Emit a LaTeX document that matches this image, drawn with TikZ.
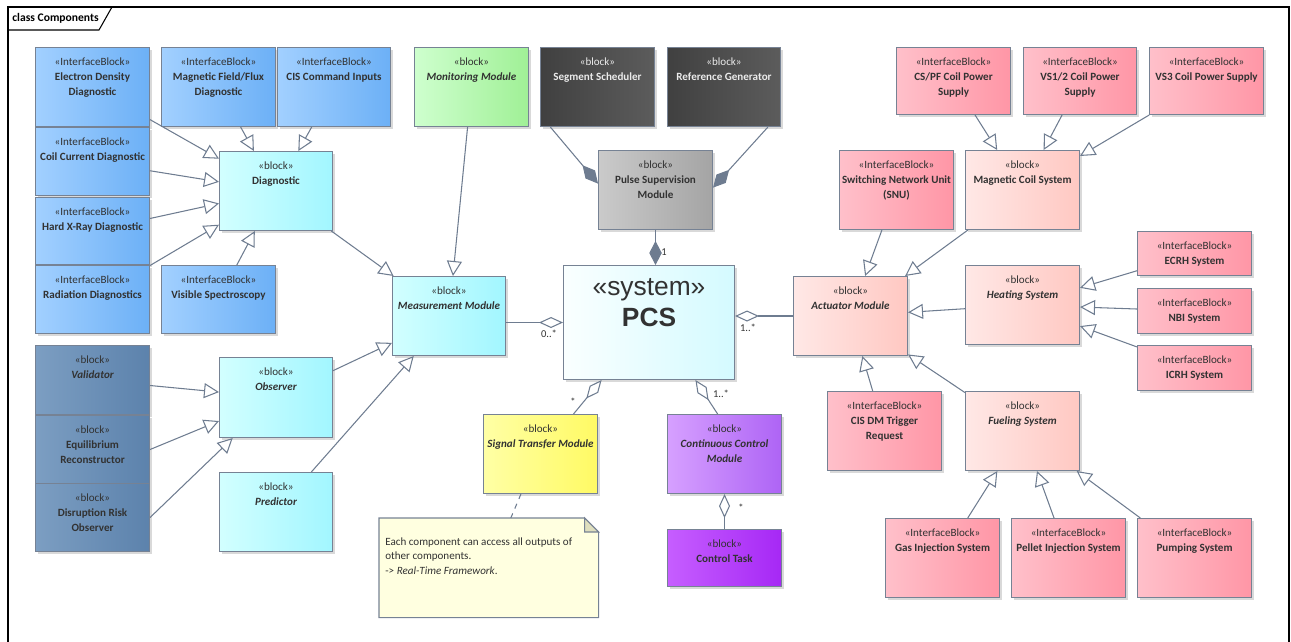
\documentclass[tikz,border=0pt]{standalone}
\usepackage{fontspec}
\setmainfont{Carlito}
\newfontfamily\pcsfont{Liberation Sans}
\usetikzlibrary{arrows.meta,positioning,calc,shadows}
\definecolor{PcsBorder}{RGB}{118,130,148}
\definecolor{PcsLine}{RGB}{110,124,144}
\definecolor{PcsText}{RGB}{50,50,50}
\definecolor{IfBlueL}{RGB}{162,208,255}
\definecolor{IfBlueR}{RGB}{108,176,246}
\definecolor{CyanL}{RGB}{210,255,255}
\definecolor{CyanR}{RGB}{162,246,255}
\definecolor{SysL}{RGB}{250,255,255}
\definecolor{SysR}{RGB}{212,250,255}
\definecolor{SteelL}{RGB}{124,158,194}
\definecolor{SteelR}{RGB}{92,130,172}
\definecolor{GreenL}{RGB}{206,255,206}
\definecolor{GreenR}{RGB}{160,240,150}
\definecolor{DarkL}{RGB}{64,64,64}
\definecolor{DarkR}{RGB}{92,92,92}
\definecolor{GrayL}{RGB}{202,202,202}
\definecolor{GrayR}{RGB}{164,164,164}
\definecolor{YellowL}{RGB}{255,255,165}
\definecolor{YellowR}{RGB}{255,250,100}
\definecolor{PurpleL}{RGB}{214,160,255}
\definecolor{PurpleR}{RGB}{174,100,245}
\definecolor{VioletL}{RGB}{198,94,255}
\definecolor{VioletR}{RGB}{166,40,245}
\definecolor{PinkL}{RGB}{255,192,202}
\definecolor{PinkR}{RGB}{255,150,166}
\definecolor{RoseL}{RGB}{255,232,230}
\definecolor{RoseR}{RGB}{255,200,194}
\definecolor{NoteFill}{RGB}{255,255,224}
\definecolor{NoteFold}{RGB}{222,222,190}
\tikzset{
  pcs/box/.style={
    draw=PcsBorder,
    line width=0.6pt,
    anchor=north west,
    minimum width=2.28cm,
    minimum height=1.58cm,
    inner sep=0pt,
    drop shadow={shadow xshift=0.05cm, shadow yshift=-0.05cm, fill=black, opacity=0.15}
  },
  pcs/iface/.style={pcs/box, left color=IfBlueL, right color=IfBlueR},
  pcs/cyan/.style={pcs/box, left color=CyanL, right color=CyanR},
  pcs/steel/.style={pcs/box, left color=SteelL, right color=SteelR},
  pcs/green/.style={pcs/box, left color=GreenL, right color=GreenR},
  pcs/dark/.style={pcs/box, left color=DarkL, right color=DarkR},
  pcs/gray/.style={pcs/box, left color=GrayL, right color=GrayR},
  pcs/system/.style={pcs/box, left color=SysL, right color=SysR},
  pcs/yellow/.style={pcs/box, left color=YellowL, right color=YellowR},
  pcs/purple/.style={pcs/box, left color=PurpleL, right color=PurpleR},
  pcs/violet/.style={pcs/box, left color=VioletL, right color=VioletR},
  pcs/pink/.style={pcs/box, left color=PinkL, right color=PinkR},
  pcs/rose/.style={pcs/box, left color=RoseL, right color=RoseR},
  pcs/txt/.style={
    anchor=north,
    inner sep=0pt,
    align=center,
    text=PcsText,
    font=\fontsize{6.3}{8.5}\selectfont\bfseries
  },
  pcs/txtw/.style={pcs/txt, text=white!92!black},
  pcs/gen/.style={draw=PcsLine, line width=0.6pt, -{Triangle[open,fill=white,length=0.3cm,width=0.3cm]}},
  pcs/agg/.style={draw=PcsLine, line width=0.6pt, {Diamond[open,fill=white,length=0.48cm,width=0.22cm]}-},
  pcs/comp/.style={draw=PcsLine, line width=0.6pt, {Diamond[fill=PcsLine,length=0.48cm,width=0.25cm]}-},
  pcs/link/.style={draw=PcsLine, line width=0.6pt, dashed},
  pcs/mult/.style={font=\fontsize{6}{7}\selectfont, text=PcsText, inner sep=0pt}
}

\begin{document}
\begin{tikzpicture}[x=0.02cm,y=-0.02cm]
  \useasboundingbox (0,0) rectangle (1291,642);
  % frame
  \draw[black, line width=0.6pt] (8,642) -- (8,7) -- (1289,7) -- (1289,642);
  \draw[black, line width=0.6pt] (8,30) -- (99,30) -- (112,7);
  \node[anchor=west, inner sep=0pt, font=\fontsize{6.6}{8}\selectfont\bfseries] (frame-t) at (12,18) {class Components};

  % diagnostics
  \node[pcs/iface] (edd) at (35,47) {};
  \node[pcs/txt, below=0.21cm of edd.north] (edd-t) {{\mdseries «InterfaceBlock»}\\Electron Density\\Diagnostic};
  \node[pcs/iface] (mff) at (161,47) {};
  \node[pcs/txt, below=0.21cm of mff.north] (mff-t) {{\mdseries «InterfaceBlock»}\\Magnetic Field/Flux\\Diagnostic};
  \node[pcs/iface, minimum width=2.26cm] (cis) at (277,47) {};
  \node[pcs/txt, below=0.21cm of cis.north] (cis-t) {{\mdseries «InterfaceBlock»}\\CIS Command Inputs};
  \node[pcs/iface, minimum height=1.36cm] (ccd) at (35,127) {};
  \node[pcs/txt, below=0.21cm of ccd.north] (ccd-t) {{\mdseries «InterfaceBlock»}\\Coil Current Diagnostic};
  \node[pcs/iface, minimum height=1.34cm] (hxr) at (35,197) {};
  \node[pcs/txt, below=0.21cm of hxr.north] (hxr-t) {{\mdseries «InterfaceBlock»}\\Hard X-Ray Diagnostic};
  \node[pcs/iface, minimum height=1.36cm] (rad) at (35,265) {};
  \node[pcs/txt, below=0.21cm of rad.north] (rad-t) {{\mdseries «InterfaceBlock»}\\Radiation Diagnostics};
  \node[pcs/iface, minimum height=1.36cm] (vis) at (161,265) {};
  \node[pcs/txt, below=0.21cm of vis.north] (vis-t) {{\mdseries «InterfaceBlock»}\\Visible Spectroscopy};
  \node[pcs/cyan, minimum width=2.26cm] (diag) at (219,151) {};
  \node[pcs/txt, below=0.21cm of diag.north] (diag-t) {{\mdseries «block»}\\Diagnostic};

  % observers
  \node[pcs/steel, minimum height=1.38cm] (vali) at (35,345) {};
  \node[pcs/txt, below=0.21cm of vali.north] (vali-t) {{\mdseries «block»}\\\itshape Validator};
  \node[pcs/steel, minimum height=1.36cm] (equi) at (35,415) {};
  \node[pcs/txt, below=0.21cm of equi.north] (equi-t) {{\mdseries «block»}\\Equilibrium\\Reconstructor};
  \node[pcs/steel, minimum height=1.36cm] (dro) at (35,483) {};
  \node[pcs/txt, below=0.21cm of dro.north] (dro-t) {{\mdseries «block»}\\Disruption Risk\\Observer};
  \node[pcs/cyan, minimum width=2.26cm, minimum height=1.6cm] (obs) at (219,357) {};
  \node[pcs/txt, below=0.21cm of obs.north] (obs-t) {{\mdseries «block»}\\\itshape Observer};
  \node[pcs/cyan, minimum width=2.26cm] (pred) at (219,472) {};
  \node[pcs/txt, below=0.21cm of pred.north] (pred-t) {{\mdseries «block»}\\\itshape Predictor};

  % core
  \node[pcs/cyan, minimum width=2.26cm] (meas) at (392,276) {};
  \node[pcs/txt, below=0.21cm of meas.north] (meas-t) {{\mdseries «block»}\\\itshape Measurement Module};
  \node[pcs/green] (mon) at (414,47) {};
  \node[pcs/txt, below=0.21cm of mon.north] (mon-t) {{\mdseries «block»}\\\itshape Monitoring Module};
  \node[pcs/dark] (seg) at (540,47) {};
  \node[pcs/txtw, below=0.21cm of seg.north] (seg-t) {{\mdseries «block»}\\Segment Scheduler};
  \node[pcs/dark, minimum width=2.26cm] (ref) at (667,47) {};
  \node[pcs/txtw, below=0.21cm of ref.north] (ref-t) {{\mdseries «block»}\\Reference Generator};
  \node[pcs/gray] (psm) at (598,150) {};
  \node[pcs/txt, below=0.21cm of psm.north] (psm-t) {{\mdseries «block»}\\Pulse Supervision\\Module};
  \node[pcs/system, minimum width=3.42cm, minimum height=2.28cm] (pcs) at (563,265) {};
  \node[pcs/txt, font=\pcsfont\fontsize{15}{17.5}\selectfont, below=0.27cm of pcs.north] (pcs-t) {«system»\\\bfseries PCS};
  \node[pcs/yellow] (stm) at (483,414) {};
  \node[pcs/txt, below=0.21cm of stm.north] (stm-t) {{\mdseries «block»}\\\itshape Signal Transfer Module};
  \node[pcs/purple] (ccm) at (667,414) {};
  \node[pcs/txt, below=0.21cm of ccm.north] (ccm-t) {{\mdseries «block»}\\\itshape Continuous Control\\\itshape Module};
  \node[pcs/violet, minimum height=1.14cm] (ctask) at (667,529) {};
  \node[pcs/txt, below=0.21cm of ctask.north] (ctask-t) {{\mdseries «block»}\\Control Task};

  % note
  \node[anchor=north west, minimum width=4.38cm, minimum height=1.98cm, inner sep=0pt] (note) at (379,518) {};
  \draw[draw=PcsBorder, line width=0.6pt, fill=NoteFill] (note.north west) -- ([xshift=-0.28cm]note.north east) -- ([yshift=-0.28cm]note.north east) -- (note.south east) -- (note.south west) -- cycle;
  \draw[draw=PcsBorder, line width=0.6pt, fill=NoteFold] ([xshift=-0.28cm]note.north east) -- ([yshift=-0.28cm]note.north east) -- ([xshift=-0.28cm,yshift=-0.28cm]note.north east) -- cycle;
  \node[anchor=north west, inner sep=0pt, align=left, text=PcsText, font=\fontsize{6.3}{8.5}\selectfont, below right=0.38cm and 0.12cm of note.north west] (note-t) {Each component can access all outputs of\\other components.\\-> \textit{Real-Time Framework}.};

  % actuators
  \node[pcs/pink, minimum height=1.34cm] (cspf) at (896,47) {};
  \node[pcs/txt, below=0.21cm of cspf.north] (cspf-t) {{\mdseries «InterfaceBlock»}\\CS/PF Coil Power\\Supply};
  \node[pcs/pink, minimum width=2.26cm, minimum height=1.34cm] (vs12) at (1023,47) {};
  \node[pcs/txt, below=0.21cm of vs12.north] (vs12-t) {{\mdseries «InterfaceBlock»}\\VS1/2 Coil Power\\Supply};
  \node[pcs/pink, minimum height=1.34cm] (vs3) at (1149,47) {};
  \node[pcs/txt, below=0.21cm of vs3.north] (vs3-t) {{\mdseries «InterfaceBlock»}\\VS3 Coil Power Supply};
  \node[pcs/pink] (snu) at (839,150) {};
  \node[pcs/txt, below=0.21cm of snu.north] (snu-t) {{\mdseries «InterfaceBlock»}\\Switching Network Unit\\(SNU)};
  \node[pcs/rose] (mcs) at (965,150) {};
  \node[pcs/txt, below=0.21cm of mcs.north] (mcs-t) {{\mdseries «block»}\\Magnetic Coil System};
  \node[pcs/rose] (act) at (793,276) {};
  \node[pcs/txt, below=0.21cm of act.north] (act-t) {{\mdseries «block»}\\\itshape Actuator Module};
  \node[pcs/rose] (heat) at (965,265) {};
  \node[pcs/txt, below=0.21cm of heat.north] (heat-t) {{\mdseries «block»}\\\itshape Heating System};
  \node[pcs/pink, minimum height=0.88cm] (ecrh) at (1137,231) {};
  \node[pcs/txt, below=0.21cm of ecrh.north] (ecrh-t) {{\mdseries «InterfaceBlock»}\\ECRH System};
  \node[pcs/pink, minimum height=0.9cm] (nbi) at (1137,288) {};
  \node[pcs/txt, below=0.21cm of nbi.north] (nbi-t) {{\mdseries «InterfaceBlock»}\\NBI System};
  \node[pcs/pink, minimum height=0.9cm] (icrh) at (1137,345) {};
  \node[pcs/txt, below=0.21cm of icrh.north] (icrh-t) {{\mdseries «InterfaceBlock»}\\ICRH System};
  \node[pcs/pink] (cisdm) at (827,391) {};
  \node[pcs/txt, below=0.21cm of cisdm.north] (cisdm-t) {{\mdseries «InterfaceBlock»}\\CIS DM Trigger\\Request};
  \node[pcs/rose] (fuel) at (965,391) {};
  \node[pcs/txt, below=0.21cm of fuel.north] (fuel-t) {{\mdseries «block»}\\\itshape Fueling System};
  \node[pcs/pink] (gas) at (885,518) {};
  \node[pcs/txt, below=0.21cm of gas.north] (gas-t) {{\mdseries «InterfaceBlock»}\\Gas Injection System};
  \node[pcs/pink] (pel) at (1011,518) {};
  \node[pcs/txt, below=0.21cm of pel.north] (pel-t) {{\mdseries «InterfaceBlock»}\\Pellet Injection System};
  \node[pcs/pink] (pump) at (1137,518) {};
  \node[pcs/txt, below=0.21cm of pump.north] (pump-t) {{\mdseries «InterfaceBlock»}\\Pumping System};

  % generalizations
  \foreach \src in {edd,mff,cis,ccd,hxr,rad,vis}{\draw[pcs/gen] (\src) -- (diag);}
  \foreach \src in {diag,mon,obs,pred}{\draw[pcs/gen] (\src) -- (meas);}
  \draw[pcs/gen] (vali) -- (obs);
  \draw[pcs/gen] (equi.east) -- ($(obs.north west)!0.79!(obs.south west)$);
  \draw[pcs/gen] (dro.east) -- ($(obs.south west)!0.12!(obs.south east)$);
  \foreach \src in {cspf,vs12,vs3}{\draw[pcs/gen] (\src) -- (mcs);}
  \foreach \src in {snu,mcs,heat,cisdm,fuel}{\draw[pcs/gen] (\src) -- (act);}
  \foreach \src in {ecrh,nbi,icrh}{\draw[pcs/gen] (\src) -- (heat);}
  \foreach \src in {gas,pel,pump}{\draw[pcs/gen] (\src) -- (fuel);}

  % aggregations and compositions
  \draw[pcs/agg] (pcs.west) -- (pcs.west -| meas.east);
  \draw[pcs/agg] (pcs.east |- act) -- (act.west);
  \draw[pcs/agg] (pcs) -- (stm);
  \draw[pcs/agg] ($(pcs.south west)!0.77!(pcs.south east)$) -- ($(ccm.north west)!0.44!(ccm.north east)$);
  \draw[pcs/agg] (ccm) -- (ctask);
  \draw[pcs/comp] (pcs.north -| psm.south) -- (psm.south);
  \draw[pcs/comp] ($(psm.north west)!0.42!(psm.south west)$) -- ($(seg.south west)!0.09!(seg.south east)$);
  \draw[pcs/comp] ($(psm.north east)!0.47!(psm.south east)$) -- ($(ref.south west)!0.885!(ref.south east)$);
  \draw[pcs/link] ($(stm.south west)!0.33!(stm.south east)$) -- ($(note.north west)!0.6!(note.north east)$);

  % multiplicities
  \node[pcs/mult] (m-meas) at (549,334) {0..*};
  \node[pcs/mult] (m-act) at (748,328) {1..*};
  \node[pcs/mult] (m-psm) at (664,252) {1};
  \node[pcs/mult] (m-stm) at (573,402) {*};
  \node[pcs/mult] (m-ccm) at (721,394) {1..*};
  \node[pcs/mult] (m-ctask) at (741,508) {*};
\end{tikzpicture}
\end{document}
